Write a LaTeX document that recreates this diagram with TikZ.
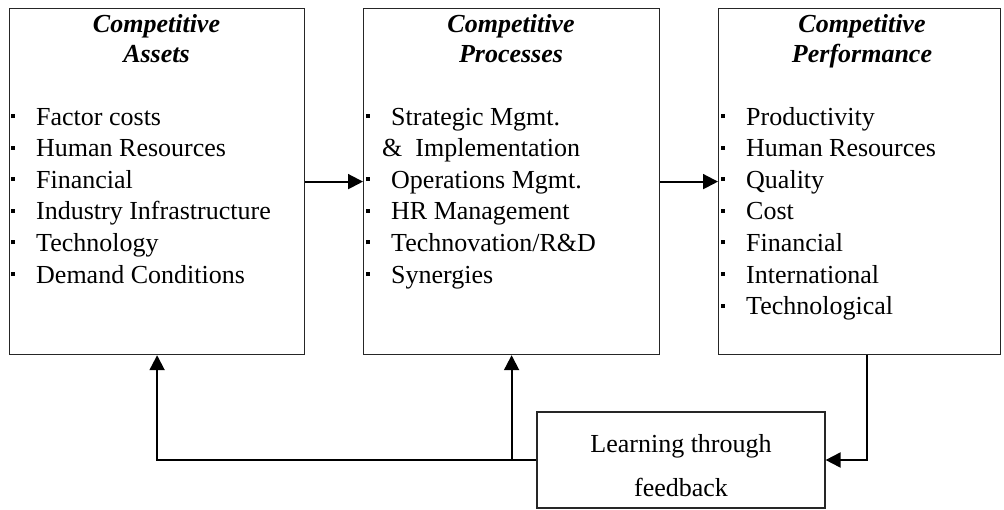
\documentclass[tikz,border=0pt]{standalone}
\usepackage{fontspec}
\setmainfont{Liberation Serif}
\usetikzlibrary{arrows.meta,positioning}
\newcommand{\bul}{\makebox[25pt][l]{\rule[7pt]{4pt}{4pt}}}
\begin{document}
\begin{tikzpicture}[x=1pt,y=-1pt,>={Triangle[length=15pt,width=15pt]},
		box/.style={draw=black!85,line width=1.2pt,minimum height=346pt,anchor=north west,inner sep=0pt},
		head/.style={anchor=base,inner sep=0pt,font=\fontsize{26}{30}\selectfont\bfseries\itshape},
		item/.style={anchor=base west,inner sep=0pt,font=\fontsize{26}{30}\selectfont,execute at begin node={\bul}},
		link/.style={line width=2pt}]
			\useasboundingbox (0,0) rectangle (1004,509);
			% the three boxes
			\node[box,minimum width=295pt] (assets) at (9,8) {};
			\node[box,minimum width=296pt] (processes) at (363,8) {};
			\node[box,minimum width=282pt] (perf) at (718,8) {};
			\node[draw=black!85,line width=1.2pt,minimum width=288pt,minimum height=96pt,align=center,inner sep=0pt,
				font=\fontsize{26}{44}\selectfont] (learn) at (681,460) {\rule{0pt}{30pt}Learning through\\feedback};
			% titles
			\node[head] (ta1) at (156.5,32) {Competitive};
			\node[head] (ta2) at (156.5,62) {Assets};
			\node[head] (tp1) at (511,32) {Competitive};
			\node[head] (tp2) at (511,62) {Processes};
			\node[head] (tf1) at (862,32) {Competitive};
			\node[head] (tf2) at (862,62) {Performance};
			% lists
			\foreach \t [count=\i] in {Factor costs,Human Resources,Financial,Industry Infrastructure,Technology,Demand Conditions}
				\node[item] (a\i) at (11,{93.4+31.6*\i}) {\t};
			\foreach \t/\r in {Strategic Mgmt./1,Operations Mgmt./3,HR Management/4,Technovation\slash R\&D/5,Synergies/6}
				\node[item] (p\r) at (366,{93.4+31.6*\r}) {\t};
			\node[anchor=base west,inner sep=0pt,font=\fontsize{26}{30}\selectfont] (p2) at (382,156.6) {\&~~Implementation};
			\foreach \t [count=\i] in {Productivity,Human Resources,Quality,Cost,Financial,International,Technological}
				\node[item] (f\i) at (721,{93.4+31.6*\i}) {\t};
			% connectors
			\draw[link,->] (assets) -- (processes);
			\draw[link,->] (processes) -- (perf);
			\draw[link,->] ([xshift=7pt]perf.south) |- (learn.east);
			\draw[link,->] (learn.west) -| (assets.south);
			\coordinate (j) at (learn.west -| processes.south);
			\draw[link,->] (j) -- (processes.south);
		\end{tikzpicture}
\end{document}
